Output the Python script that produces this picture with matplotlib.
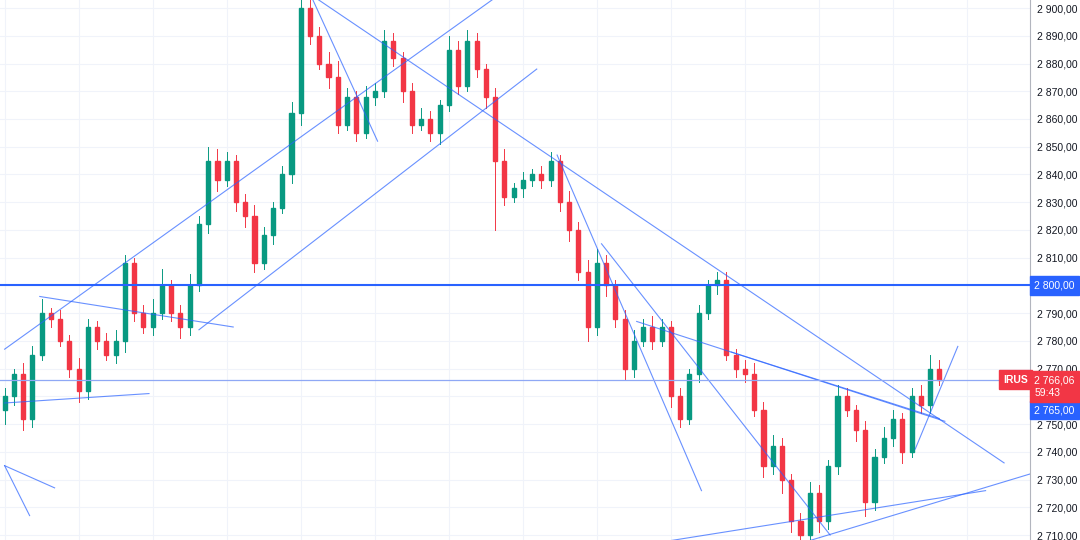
import matplotlib
matplotlib.use("Agg")
import matplotlib.pyplot as plt
from matplotlib.patches import Rectangle

closes = [2760,2768,2752,2775,2790,2788,2780,2770,2762,2785,
          2780,2775,2780,2808,2790,2785,2790,2800,2790,2785,
          2800,2822,2845,2838,2845,2830,2825,2808,2818,2828,
          2840,2862,2900,2890,2880,2875,2858,2868,2855,2868,
          2870,2888,2882,2870,2858,2860,2855,2865,2885,2872,
          2888,2878,2868,2845,2832,2835,2838,2840,2838,2845,
          2830,2820,2805,2785,2808,2800,2788,2770,2780,2785,
          2780,2785,2760,2752,2768,2790,2800,2802,2775,2770,
          2768,2755,2735,2742,2730,2715,2710,2725,2715,2735,
          2760,2755,2748,2722,2738,2745,2752,2740,2760,2757,
          2770,2766.06]
first_open = 2755
up_wick = [3,2,4,3,5,2,3,2,4,3, 2,3,4,3,2,3,5,6,2,3, 4,3,5,4,3,2,3,4,3,2,
           3,4,3,5,3,4,6,3,2,4, 3,4,3,2,3,4,3,2,5,3, 4,3,2,3,4,2,3,2,3,3,
           2,4,3,4,5,3,2,3,4,3, 4,3,2,3,2,3,2,3,3,2, 3,4,3,4,3,2,3,4,3,2,
           4,3,2,3,3,4,3,2,3,4, 5,3]
low_wick = [5,3,4,3,2,3,2,3,4,3, 3,2,3,4,3,2,3,2,3,4, 3,2,3,4,2,3,4,3,2,3,
            2,3,4,3,2,4,3,2,3,2, 3,2,3,4,3,2,3,4,2,3, 2,3,4,25,3,2,3,2,3,2,
            3,4,3,5,3,4,3,4,3,2, 3,2,4,3,2,3,2,3,2,3, 3,2,4,3,5,4,3,2,4,3,
            3,2,4,5,3,2,3,4,2,3, 3,2]

trend_lines = [((0,2777),(52.7,2903)), ((21,2784),(57.5,2878)), ((33.3,2903),(40.3,2852)),
               ((33.9,2903),(108,2736)), ((59.7,2847),(75.3,2726)), ((64.5,2815),(89.2,2710)),
               ((68.3,2787),(101.6,2751)), ((78.5,2776),(101,2752)), ((72,2708),(106,2726)),
               ((87,2708),(110.8,2732)), ((98.4,2741),(103,2778)), ((3.8,2796),(24.7,2785)),
               ((0,2757.6),(15.6,2761)), ((0,2735),(5.4,2727)), ((0,2735),(2.7,2717))]
level_main = 2800
level_last = 2766.06
level_bid = 2765
price_ticks = list(range(2710, 2901, 10))
hidden_ticks = [2760, 2800]

UP, DN, BLUE = "#089981", "#f23645", "#2962ff"
FONT = "Liberation Sans"

fig = plt.figure(figsize=(10.8, 5.4), dpi=100)
ax = fig.add_axes([0, 0, 1030/1080, 1])
ax.set_xlim(-0.5, 110.8)
ax.set_ylim(2708.2, 2902.9)
for v in price_ticks:
    ax.axhline(v, color="#f0f3fa", lw=0.8, zorder=0)
for xv in range(0, 111, 8):
    ax.axvline(xv, color="#f0f3fa", lw=0.8, zorder=0)

prev = first_open
for i, c in enumerate(closes):
    o = prev
    col = UP if c >= o else DN
    hi = max(o, c) + up_wick[i]
    lo = min(o, c) - low_wick[i]
    ax.plot([i, i], [lo, hi], color=col, lw=0.7, zorder=2)
    ax.add_patch(Rectangle((i - 0.22, min(o, c)), 0.44, max(abs(c - o), 0.3), color=col, zorder=3))
    prev = c

for (a, b) in trend_lines:
    ax.plot([a[0], b[0]], [a[1], b[1]], color=BLUE, lw=0.8, alpha=0.7, zorder=4)
ax.axhline(level_main, color=BLUE, lw=1.5, zorder=4)
ax.axhline(level_last, color="#8fa8f5", lw=0.9, zorder=4)

ax.set_xticks([])
ax.yaxis.tick_right()
ax.set_yticks(price_ticks)
ax.set_yticklabels(["" if v in hidden_ticks else f"{v//1000} {v%1000:03d},00" for v in price_ticks],
                   fontsize=7.5, color="#131722", family=FONT)
ax.tick_params(axis="y", length=0, pad=5)
for s in ["top", "bottom", "left"]:
    ax.spines[s].set_visible(False)
ax.spines["right"].set_color("#b2b5be")

def box(y, txt, col, x=1.004):
    ax.text(x, y, txt, transform=ax.get_yaxis_transform(), fontsize=7.5, color="white", family=FONT,
            va="center", ha="left", bbox=dict(boxstyle="square,pad=0.4", fc=col, ec=col), zorder=10, clip_on=False)

box(level_main, "2 800,00", BLUE)
box(level_bid - 10, "2 765,00", BLUE)
ax.text(0.998, level_last, "IRUS", transform=ax.get_yaxis_transform(), fontsize=7.5, color="white", family=FONT,
        va="center", ha="right", fontweight="bold", bbox=dict(boxstyle="square,pad=0.4", fc=DN, ec=DN), clip_on=False, zorder=10)
ax.text(1.004, level_last - 2.5, "2 766,06\n59:43", transform=ax.get_yaxis_transform(), fontsize=7.5, color="white", family=FONT,
        va="center", ha="left", linespacing=1.35, bbox=dict(boxstyle="square,pad=0.4", fc=DN, ec=DN), clip_on=False, zorder=10)

fig.savefig("out.png", dpi=100)
